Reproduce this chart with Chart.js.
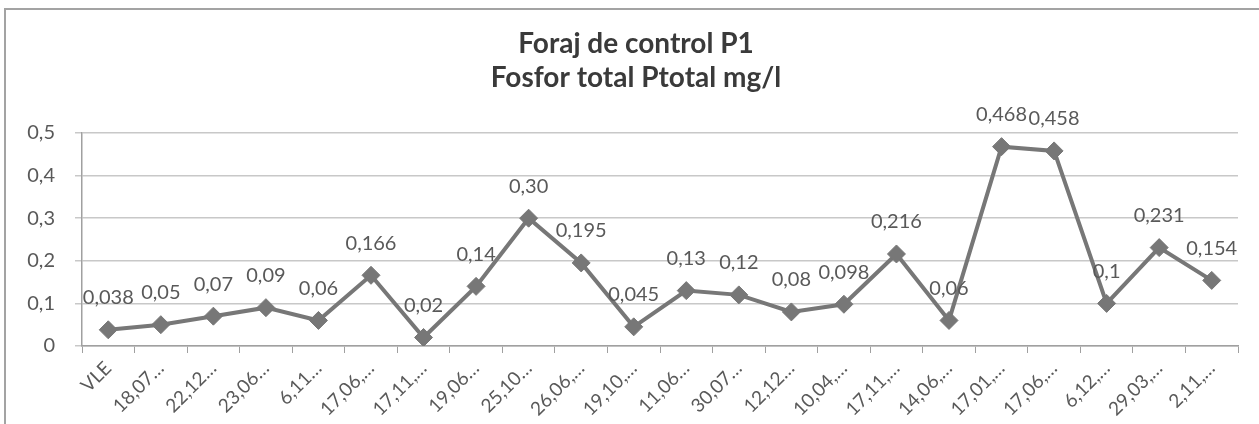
<!DOCTYPE html>
<html>
<head>
<meta charset="utf-8">
<script src="https://cdn.jsdelivr.net/npm/chart.js@4/dist/chart.umd.min.js"></script>
<style>
    html, body { margin: 0; padding: 0; background: #fff; overflow: hidden; }
    #frame {
        position: absolute; left: 4px; top: 8px; width: 2000px; height: 1000px;
        border-left: 2px solid #a3a3a3; border-top: 2px solid #a3a3a3;
    }
    #wrap { position: absolute; left: 0; top: 0; width: 1259px; height: 424px; }
</style>
</head>
<body>
<div id="frame"></div>
<div id="wrap"><canvas id="phChart" width="1259" height="424"></canvas></div>
<script>
// Sampling dates (truncated as in the original axis)
const categories = ['VLE', '18,07…', '22,12…', '23,06…', '6,11…', '17,06,…', '17,11,…', '19,06…',
    '25,10…', '26,06,…', '19,10,…', '11,06…', '30,07…', '12,12…', '10,04,…', '17,11,…',
    '14,06,…', '17,01,…', '17,06,…', '6,12,…', '29,03,…', '2,11,…'];

// Fosfor total (mg/l)
const ptotal = [0.038, 0.05, 0.07, 0.09, 0.06, 0.166, 0.02, 0.14, 0.30, 0.195, 0.045,
    0.13, 0.12, 0.08, 0.098, 0.216, 0.06, 0.468, 0.458, 0.1, 0.231, 0.154];

// labels exactly as printed on the chart
const ptotalLabels = ['0,038', '0,05', '0,07', '0,09', '0,06', '0,166', '0,02', '0,14', '0,30', '0,195', '0,045',
    '0,13', '0,12', '0,08', '0,098', '0,216', '0,06', '0,468', '0,458', '0,1', '0,231', '0,154'];

const yTicks = [0, 0.1, 0.2, 0.3, 0.4, 0.5];
const titleLines = ['Foraj de control P1', 'Fosfor total Ptotal mg/l'];

const GRAY = '#777777';
const TEXT = '#595959';
const FONT = 'Lato, "Open Sans", sans-serif';

// title centred on the outer frame, not on the canvas
const frameTitle = {
    id: 'frameTitle',
    afterDraw(chart) {
        const ctx = chart.ctx;
        ctx.save();
        ctx.font = 'bold 28px ' + FONT;
        ctx.fillStyle = '#3a3a3a';
        ctx.textAlign = 'center';
        ctx.textBaseline = 'middle';
        titleLines.forEach((t, i) => ctx.fillText(t, 636, 44 + i * 34));
        ctx.restore();
    }
};

// draws the value above each point (no datalabels plugin offline)
const valueLabels = {
    id: 'valueLabels',
    afterDatasetsDraw(chart) {
        const ctx = chart.ctx;
        const meta = chart.getDatasetMeta(0);
        ctx.save();
        ctx.font = '20px ' + FONT;
        ctx.fillStyle = TEXT;
        ctx.textAlign = 'center';
        ctx.textBaseline = 'middle';
        meta.data.forEach((pt, i) => {
            ctx.fillText(ptotalLabels[i], pt.x, pt.y - 32);
        });
        ctx.restore();
    }
};

const ctx = document.getElementById('phChart').getContext('2d');
new Chart(ctx, {
    type: 'line',
    data: {
        labels: categories,
        datasets: [{
            label: 'Ptotal',
            data: ptotal,
            borderColor: GRAY,
            backgroundColor: GRAY,
            borderWidth: 4,
            pointStyle: 'rectRot',
            pointRadius: 9,
            pointBorderWidth: 1,
            pointBackgroundColor: GRAY,
            pointBorderColor: GRAY,
            tension: 0
        }]
    },
    options: {
        responsive: false,
        animation: false,
        layout: { padding: { left: 0, right: 21, top: 133, bottom: 0 } },
        plugins: {
            legend: { display: false },
            tooltip: { enabled: false },
            title: { display: false }
        },
        scales: {
            x: {
                offset: true,
                afterFit(scale) { scale.height = 78; },
                grid: { offset: true, drawOnChartArea: false, drawTicks: true, tickLength: 7, color: '#a0a0a0' },
                border: { color: '#a0a0a0', width: 1.5 },
                ticks: {
                    color: TEXT,
                    font: { family: FONT, size: 19 },
                    maxRotation: 45,
                    minRotation: 45,
                    autoSkip: false,
                    padding: 4
                }
            },
            y: {
                min: 0,
                max: 0.5,
                afterFit(scale) { scale.width = 82; },
                afterBuildTicks(scale) { scale.ticks = yTicks.map(v => ({ value: v })); },
                grid: { color: '#c8c8c8', lineWidth: 1.5, tickLength: 7 },
                border: { color: '#a0a0a0', width: 1.5 },
                ticks: {
                    color: TEXT,
                    font: { family: FONT, size: 20 },
                    padding: 20,
                    callback: v => String(Math.round(v * 10) / 10).replace('.', ',')
                }
            }
        }
    },
    plugins: [valueLabels, frameTitle]
});
</script>
</body>
</html>
